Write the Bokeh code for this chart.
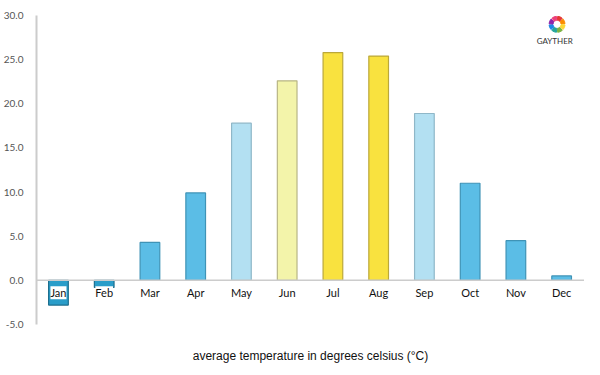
from bokeh.plotting import figure
from bokeh.models import ColumnDataSource, LabelSet, Label, Span, Range1d, FixedTicker, CustomJSTickFormatter
from bokeh.embed import file_html
from bokeh.resources import INLINE
from bokeh.core.properties import value
import math

months = ["Jan", "Feb", "Mar", "Apr", "May", "Jun", "Jul", "Aug", "Sep", "Oct", "Nov", "Dec"]
temps = [-2.8, -0.8, 4.3, 9.9, 17.8, 22.6, 25.8, 25.4, 18.9, 11.0, 4.5, 0.5]
fills = ["#2a9dc9", "#2a9dc9", "#5bbde6", "#5bbde6", "#b3e0f2", "#f3f4aa",
         "#f9e23f", "#f9e23f", "#b3e0f2", "#5bbde6", "#5bbde6", "#5bbde6"]
outlines = ["#1d6f8e", "#1d6f8e", "#3f93b6", "#3f93b6", "#8fb7c8", "#b8b585",
            "#bba83a", "#bba83a", "#8fb7c8", "#3f93b6", "#3f93b6", "#3f93b6"]
y_ticks = [-5, 0, 5, 10, 15, 20, 25, 30]

src = ColumnDataSource(dict(x=list(range(len(months))), top=temps, m=months,
                            fill=fills, line=outlines, zero=[0] * len(months)))

p = figure(width=584, height=370, output_backend="svg", toolbar_location=None,
           x_range=Range1d(-0.48, 11.5), y_range=Range1d(-5, 30),
           min_border_left=28, min_border_right=0, min_border_top=15, min_border_bottom=46)
p.outline_line_color = None
p.grid.visible = False

xa = p.xaxis[0]
xa.ticker = FixedTicker(ticks=[])
xa.axis_line_color = None
xa.major_tick_line_color = None
xa.minor_tick_line_color = None
xa.axis_label = "average temperature in degrees celsius (°C)"
xa.axis_label_text_font = "Liberation Sans"
xa.axis_label_text_font_size = "12px"
xa.axis_label_text_font_style = "normal"
xa.axis_label_text_color = "#111111"
xa.axis_label_standoff = 24

ya = p.yaxis[0]
ya.ticker = FixedTicker(ticks=y_ticks)
ya.formatter = CustomJSTickFormatter(code="return tick.toFixed(1);")
ya.axis_line_color = "#cccccc"
ya.axis_line_width = 2
ya.major_tick_line_color = None
ya.minor_tick_line_color = None
ya.major_label_text_font = "Lato"
ya.major_label_text_font_size = "10px"
ya.major_label_text_color = "#555555"
ya.major_label_standoff = 7

p.vbar(x="x", top="top", bottom=0, width=0.43, source=src,
       fill_color="fill", line_color="line", line_width=1.2)

p.add_layout(Span(location=0, dimension="width", line_color="#cccccc", line_width=1.5))

labels = LabelSet(x="x", y="zero", text="m", source=src, y_offset=-6,
                  text_align="center", text_baseline="top",
                  text_font=value("Lato"), text_font_size="11px", text_color="#111111",
                  background_fill_color="white")
p.add_layout(labels)

# logo
ring = ["#e53935", "#fb8c00", "#fdd835", "#7cb342", "#26a69a", "#1e88e5", "#8e24aa", "#ec407a"]
n = len(ring)
starts = [math.pi / 2 - (i + 1) * 2 * math.pi / n + 0.08 for i in range(n)]
ends = [math.pi / 2 - i * 2 * math.pi / n - 0.08 for i in range(n)]
p.annular_wedge(x=[10.9] * n, y=[29.0] * n, inner_radius=4, outer_radius=8,
                inner_radius_units="screen", outer_radius_units="screen",
                start_angle=starts, end_angle=ends, color=ring)
p.add_layout(Label(x=10.85, y=27.1, text="GAYTHER", text_align="center", text_baseline="middle",
                   text_font="Lato", text_font_size="8px", text_color="#333333"))

open("out.html", "w").write(file_html(p, INLINE))
